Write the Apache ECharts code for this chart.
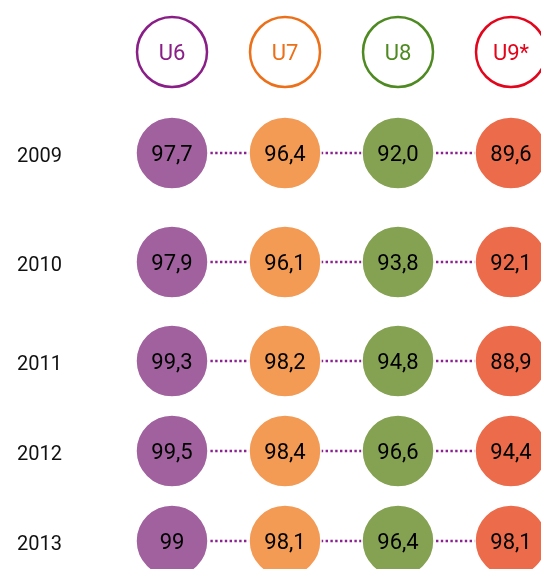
<!DOCTYPE html>
<html>
<head>
<meta charset="utf-8">
<script src="https://cdn.jsdelivr.net/npm/echarts@6/dist/echarts.min.js"></script>
<style>
  html, body { margin: 0; padding: 0; background: #fff; }
  #chart { width: 541px; height: 569px; }
</style>
</head>
<body>
<div id="chart"></div>
<script>
// Data
const groups = ['U6', 'U7', 'U8', 'U9*'];
const years = ['2009', '2010', '2011', '2012', '2013'];
// values as printed (comma decimals)
const values2009 = ['97,7', '96,4', '92,0', '89,6'];
const values2010 = ['97,9', '96,1', '93,8', '92,1'];
const values2011 = ['99,3', '98,2', '94,8', '88,9'];
const values2012 = ['99,5', '98,4', '96,6', '94,4'];
const values2013 = ['99', '98,1', '96,4', '98,1'];
const rows = [values2009, values2010, values2011, values2012, values2013];

// Layout
const fillColors = ['#a0619e', '#f39b55', '#85a253', '#ec6b4b'];
const lineColors = ['#8a1e87', '#ec7019', '#4e8a21', '#e3051b'];
const headerY = 52;
const rowY = [153, 262, 361, 451, 541];
const FONT = 'Roboto';

const chart = echarts.init(document.getElementById('chart'));

const grids = [];
const xAxes = [];
const yAxes = [];
const series = [];

function addGrid(centerY, label) {
    const idx = grids.length;
    grids.push({ left: 172, right: 30, top: centerY - 20, height: 40 });
    xAxes.push({
        type: 'category', gridIndex: idx, data: groups, boundaryGap: false,
        axisLine: { show: false }, axisTick: { show: false }, axisLabel: { show: false }, splitLine: { show: false }
    });
    yAxes.push({
        type: 'category', gridIndex: idx, data: [label],
        axisLine: { show: false }, axisTick: { show: false }, splitLine: { show: false },
        axisLabel: {
            show: label !== '', align: 'left', margin: 155,
            formatter: v => '{y|' + v + '}',
            rich: { y: { color: '#111', fontSize: 20, fontFamily: FONT, padding: [7, 0, 0, 0] } }
        }
    });
    return idx;
}

// header row
const h = addGrid(headerY, '');
series.push({
    type: 'scatter', xAxisIndex: h, yAxisIndex: h, symbolSize: 70, silent: true,
    data: groups.map((g, i) => ({
        value: [i, 0],
        itemStyle: { color: '#fff', opacity: 1, borderColor: lineColors[i], borderWidth: 2.5 },
        label: { color: lineColors[i] }
    })),
    label: {
        show: true, position: 'inside', fontSize: 22, fontFamily: FONT, offset: [0, 2],
        formatter: p => groups[p.value[0]]
    }
});

// year rows
rows.forEach((vals, r) => {
    const g = addGrid(rowY[r], years[r]);
    series.push({
        type: 'line', xAxisIndex: g, yAxisIndex: g, silent: true, symbol: 'none', z: 1,
        lineStyle: { color: '#8a2390', width: 2.4, type: [2.4, 2.4], cap: 'butt' },
        data: vals.map((v, i) => [i, 0])
    });
    series.push({
        type: 'scatter', xAxisIndex: g, yAxisIndex: g, symbolSize: 72, silent: true, z: 3,
        data: vals.map((v, i) => ({
            value: [i, 0, v],
            itemStyle: { color: fillColors[i], opacity: 1, borderColor: '#fff', borderWidth: 1.5 }
        })),
        label: {
            show: true, position: 'inside', color: '#000', fontSize: 22, fontFamily: FONT, offset: [0, 2],
            formatter: p => p.value[2]
        }
    });
});

chart.setOption({
    animation: false,
    grid: grids,
    xAxis: xAxes,
    yAxis: yAxes,
    series: series
});
</script>
</body>
</html>
